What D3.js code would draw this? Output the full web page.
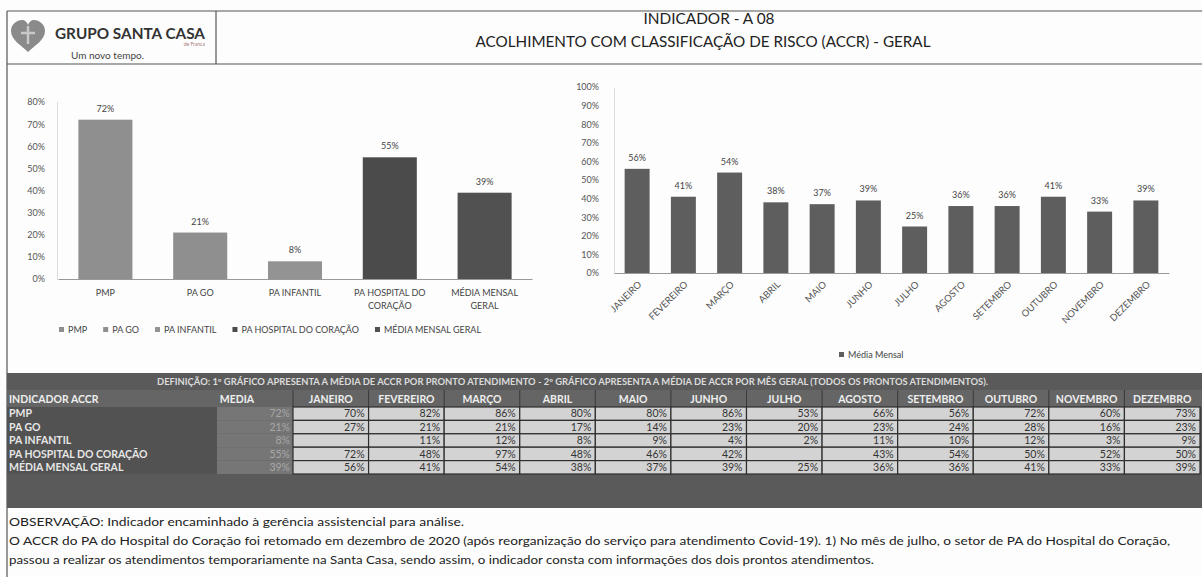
<!DOCTYPE html>
<html><head><meta charset="utf-8">
<script src="https://cdn.jsdelivr.net/npm/d3@7"></script>
<style>
body{margin:0;background:#fff}
svg{display:block}
text{font-family:Lato,"Open Sans",sans-serif}
</style>
</head><body>
<svg id="c" width="1202" height="577"></svg>
<script>
// ---------- data ----------
const unitCategories = ["PMP","PA GO","PA INFANTIL","PA HOSPITAL DO CORAÇÃO","MÉDIA MENSAL GERAL"];
const unitLabelLines = [["PMP"],["PA GO"],["PA INFANTIL"],["PA HOSPITAL DO","CORAÇÃO"],["MÉDIA MENSAL","GERAL"]];
const unitAverage = [0.72,0.21,0.08,0.55,0.39];
const unitColors = ["#8f8f8f","#8f8f8f","#939393","#4b4b4b","#515151"];
const leftTicks = [0,0.1,0.2,0.3,0.4,0.5,0.6,0.7,0.8];

const months = ["JANEIRO","FEVEREIRO","MARÇO","ABRIL","MAIO","JUNHO","JULHO","AGOSTO","SETEMBRO","OUTUBRO","NOVEMBRO","DEZEMBRO"];
const monthlyAverage = [0.56,0.41,0.54,0.38,0.37,0.39,0.25,0.36,0.36,0.41,0.33,0.39];
const rightTicks = [0,0.1,0.2,0.3,0.4,0.5,0.6,0.7,0.8,0.9,1.0];

const tableHeader = ["INDICADOR ACCR","MEDIA"].concat(months);
const tableRowNames = ["PMP","PA GO","PA INFANTIL","PA HOSPITAL DO CORAÇÃO","MÉDIA MENSAL GERAL"];
const tableMedia = [72,21,8,55,39];
const pmpRow     = [70,82,86,80,80,86,53,66,56,72,60,73];
const paGoRow    = [27,21,21,17,14,23,20,23,24,28,16,23];
const paInfRow   = [null,11,12,8,9,4,2,11,10,12,3,9];
const paHospRow  = [72,48,97,48,46,42,null,43,54,50,52,50];
const mediaRow   = [56,41,54,38,37,39,25,36,36,41,33,39];

const titleLine1 = "INDICADOR - A 08";
const titleLine2 = "ACOLHIMENTO COM CLASSIFICAÇÃO DE RISCO (ACCR) - GERAL";
const definitionText = "DEFINIÇÃO: 1º GRÁFICO APRESENTA A MÉDIA DE ACCR POR PRONTO ATENDIMENTO - 2º GRÁFICO APRESENTA A MÉDIA DE ACCR POR MÊS GERAL (TODOS OS PRONTOS ATENDIMENTOS).";
const notes = [
 "OBSERVAÇÃO: Indicador encaminhado à gerência assistencial para análise.",
 "O ACCR do PA do Hospital do Coração foi retomado em dezembro de 2020 (após reorganização do serviço para atendimento Covid-19).  1) No mês de julho, o setor de PA do Hospital do Coração,",
 "passou a realizar os atendimentos temporariamente na Santa Casa, sendo assim, o indicador consta com informações dos dois prontos atendimentos."
];

// ---------- drawing ----------
const svg = d3.select("#c");
const pct = d3.format(".0%");
svg.append("rect").attr("width",1202).attr("height",577).attr("fill","#fdfdfd");

// frame / header
const headTop = 11, headBottom = 64;
const frame = svg.append("g").attr("stroke","#555").attr("stroke-width",1.2).attr("fill","none");
frame.append("line").attr("x1",7).attr("x2",1202).attr("y1",headTop).attr("y2",headTop);
frame.append("line").attr("x1",7).attr("x2",1202).attr("y1",headBottom).attr("y2",headBottom);
frame.append("line").attr("x1",7).attr("x2",7).attr("y1",headTop).attr("y2",577);
frame.append("line").attr("x1",216).attr("x2",216).attr("y1",headTop).attr("y2",headBottom);

// logo
const logo = svg.append("g").attr("transform","translate(28,37)");
logo.append("path").attr("d","M0,15 C-6,9 -17,3 -17,-6 C-17,-13 -11,-17 -6,-17 C-3,-17 -1,-15 0,-12 C1,-15 3,-17 6,-17 C11,-17 17,-13 17,-6 C17,3 6,9 0,15 Z")
  .attr("fill","#8a8a8a");
logo.append("path").attr("d","M-7,-4 h14 M0,-11 v18").attr("stroke","#c8c8c8").attr("stroke-width",2.5).attr("fill","none");
svg.append("text").attr("x",55).attr("y",39).attr("font-size",15).attr("font-weight",700).attr("fill","#333")
  .attr("textLength",150).attr("lengthAdjust","spacingAndGlyphs").text("GRUPO SANTA CASA");
svg.append("text").attr("x",205).attr("y",46).attr("font-size",5).attr("fill","#a77").attr("text-anchor","end").text("de Franca");
svg.append("text").attr("x",71).attr("y",59).attr("font-size",10).attr("fill","#444").text("Um novo tempo.");

svg.append("text").attr("x",709).attr("y",24).attr("text-anchor","middle").attr("font-size",14.5).attr("fill","#222")
  .attr("textLength",131).attr("lengthAdjust","spacingAndGlyphs").text(titleLine1);
svg.append("text").attr("x",703).attr("y",47).attr("text-anchor","middle").attr("font-size",14.5).attr("fill","#222")
  .attr("textLength",455).attr("lengthAdjust","spacingAndGlyphs").text(titleLine2);

// ---------- left chart ----------
const xL = d3.scaleBand().domain(unitCategories).range([58,532]).paddingInner(0.43).paddingOuter(0.215);
const yL = d3.scaleLinear().domain([0,0.8]).range([279,102]);
const gyL = svg.append("g").attr("transform","translate(57,0)")
  .call(d3.axisLeft(yL).tickValues(leftTicks).tickFormat(pct).tickSize(0).tickPadding(12));
gyL.select(".domain").attr("stroke","#bbb").attr("stroke-dasharray","1,1");
gyL.selectAll("text").attr("font-size",9).attr("fill","#555").attr("font-family","Lato,sans-serif");
const gxL = svg.append("g").attr("transform","translate(0,279)")
  .call(d3.axisBottom(xL).tickSize(0).tickFormat(""));
gxL.select(".domain").attr("stroke","#999");
svg.append("g").selectAll("rect").data(unitCategories).join("rect")
  .attr("x",d=>xL(d)).attr("width",xL.bandwidth())
  .attr("y",(d,i)=>yL(unitAverage[i])).attr("height",(d,i)=>yL(0)-yL(unitAverage[i]))
  .attr("fill",(d,i)=>unitColors[i]);
svg.append("g").selectAll("text").data(unitCategories).join("text")
  .attr("x",d=>xL(d)+xL.bandwidth()/2).attr("y",(d,i)=>yL(unitAverage[i])-8)
  .attr("text-anchor","middle").attr("font-size",9).attr("fill","#444")
  .text((d,i)=>pct(unitAverage[i]));
const catG = svg.append("g").selectAll("text").data(unitCategories).join("text")
  .attr("x",d=>xL(d)+xL.bandwidth()/2).attr("y",296).attr("text-anchor","middle")
  .attr("font-size",9).attr("fill","#444");
catG.each(function(d,i){
  d3.select(this).selectAll("tspan").data(unitLabelLines[i]).join("tspan")
    .attr("x",xL(d)+xL.bandwidth()/2).attr("dy",(t,j)=>j?13:0).text(t=>t);
});
// left legend
{
  const lg = svg.append("g").attr("transform","translate(59,333)");
  let cx = 0;
  unitCategories.forEach((c,i)=>{
    lg.append("rect").attr("x",cx).attr("y",-6).attr("width",5).attr("height",5).attr("fill",unitColors[i]);
    const t = lg.append("text").attr("x",cx+9).attr("y",0).attr("font-size",9).attr("fill","#444").text(c);
    cx += 9 + t.node().getComputedTextLength() + 16;
  });
}

// ---------- right chart ----------
const xR = d3.scaleBand().domain(months).range([614,1169]).paddingInner(0.46).paddingOuter(0.23);
const yR = d3.scaleLinear().domain([0,1]).range([273,87]);
const gyR = svg.append("g").attr("transform","translate(614,0)")
  .call(d3.axisLeft(yR).tickValues(rightTicks).tickFormat(pct).tickSize(0).tickPadding(15));
gyR.select(".domain").attr("stroke","#bbb").attr("stroke-dasharray","1,1");
gyR.selectAll("text").attr("font-size",9).attr("fill","#555").attr("font-family","Lato,sans-serif");
const gxR = svg.append("g").attr("transform","translate(0,273)")
  .call(d3.axisBottom(xR).tickSize(0).tickPadding(0));
gxR.select(".domain").attr("stroke","#999");
gxR.selectAll("text").attr("font-size",9.5).attr("fill","#555").attr("font-family","Lato,sans-serif")
  .attr("text-anchor","end").attr("dy",0).attr("y",0)
  .attr("transform","translate(5,12) rotate(-45)");
svg.append("g").selectAll("rect").data(months).join("rect")
  .attr("x",d=>xR(d)).attr("width",xR.bandwidth())
  .attr("y",(d,i)=>yR(monthlyAverage[i])).attr("height",(d,i)=>yR(0)-yR(monthlyAverage[i]))
  .attr("fill","#5e5e5e");
svg.append("g").selectAll("text").data(months).join("text")
  .attr("x",d=>xR(d)+xR.bandwidth()/2).attr("y",(d,i)=>yR(monthlyAverage[i])-8)
  .attr("text-anchor","middle").attr("font-size",9).attr("fill","#444")
  .text((d,i)=>pct(monthlyAverage[i]));
{
  const lg = svg.append("g").attr("transform","translate(839,358)");
  lg.append("rect").attr("x",0).attr("y",-6).attr("width",5).attr("height",5).attr("fill","#5e5e5e");
  lg.append("text").attr("x",9).attr("y",0).attr("font-size",9).attr("fill","#444").text("Média Mensal");
}

// ---------- table ----------
const tableTop = 373, defH = 17, headH = 17, rowH = 13.4;
const rowsTop = tableTop + defH + headH;
svg.append("rect").attr("x",7).attr("y",tableTop).attr("width",1195).attr("height",508-tableTop).attr("fill","#5a5a5a");
svg.append("text").attr("x",157).attr("y",tableTop+12).attr("font-size",8.5).attr("font-weight",700).attr("fill","#dcdcdc")
  .attr("textLength",831).attr("lengthAdjust","spacingAndGlyphs").text(definitionText);
const colX = d3.scaleBand().domain(months).range([293,1200]);
const mediaX0 = 217, mediaX1 = 293;
const headY = tableTop + defH;
svg.append("rect").attr("x",7).attr("y",headY).attr("width",1195).attr("height",headH).attr("fill","#656565");
svg.append("g").selectAll("line").data(months).join("line")
  .attr("x1",d=>colX(d)).attr("x2",d=>colX(d)).attr("y1",headY).attr("y2",headY+headH)
  .attr("stroke","#3a3a3a").attr("stroke-width",1);
svg.append("text").attr("x",9).attr("y",headY+12.5).attr("font-size",10.5).attr("font-weight",700).attr("fill","#eee").text(tableHeader[0]);
svg.append("text").attr("x",237).attr("y",headY+12.5).attr("text-anchor","middle").attr("font-size",10.5).attr("font-weight",700).attr("fill","#eee").text(tableHeader[1]);
svg.append("g").selectAll("text").data(months).join("text")
  .attr("x",d=>colX(d)+colX.bandwidth()/2).attr("y",headY+12.5).attr("text-anchor","middle")
  .attr("font-size",10.5).attr("font-weight",700).attr("fill","#eee").text(d=>d);

const tableValues = [pmpRow,paGoRow,paInfRow,paHospRow,mediaRow];
const rowY = d3.scaleBand().domain(tableRowNames).range([rowsTop,rowsTop+rowH*5]);
tableRowNames.forEach((r,i)=>{
  const y = rowY(r);
  svg.append("rect").attr("x",7).attr("y",y).attr("width",mediaX0-7).attr("height",rowH).attr("fill","#525252");
  svg.append("rect").attr("x",mediaX0).attr("y",y).attr("width",mediaX1-mediaX0).attr("height",rowH).attr("fill","#767676");
  svg.append("text").attr("x",9).attr("y",y+rowH-3).attr("font-size",10.5).attr("font-weight",700).attr("fill","#e6e6e6").text(r);
  svg.append("text").attr("x",mediaX1-3).attr("y",y+rowH-3).attr("text-anchor","end").attr("font-size",10.5).attr("fill","#a8a8a8").text(tableMedia[i]+"%");
  const g = svg.append("g");
  g.selectAll("rect").data(months).join("rect")
    .attr("x",d=>colX(d)).attr("y",y).attr("width",colX.bandwidth()).attr("height",rowH)
    .attr("fill","#d3d3d3").attr("stroke","#2e2e2e").attr("stroke-width",1.2);
  g.selectAll("text").data(months).join("text")
    .attr("x",d=>colX(d)+colX.bandwidth()-4).attr("y",y+rowH-3).attr("text-anchor","end")
    .attr("font-size",10.5).attr("fill","#333")
    .text((d,j)=>tableValues[i][j]==null?"":tableValues[i][j]+"%");
});

// notes
const noteLengths = [455,1161,865];
notes.forEach((n,i)=>{
  svg.append("text").attr("x",9).attr("y",526+19*i).attr("font-size",10.5).attr("fill","#222")
    .attr("textLength",noteLengths[i]).attr("lengthAdjust","spacingAndGlyphs").text(n);
});
</script>
</body></html>
